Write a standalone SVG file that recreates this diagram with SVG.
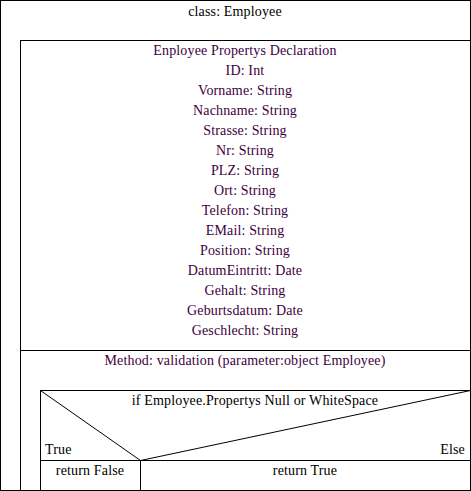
<svg xmlns="http://www.w3.org/2000/svg" width="471" height="491" viewBox="0 0 471 491">
  <style>
    .box { fill: #ffffff; stroke: #000000; stroke-width: 1; }
    .ln { fill: none; stroke: #000000; stroke-width: 1; }
    .blk { fill: #000000; }
    .pur { fill: #400040; }
    .mid { text-anchor: middle; }
  </style>

  <!-- class frame -->
  <g id="class-employee">
    <rect class="box" x="0.5" y="0.5" width="470" height="490"/>
  </g>

  <!-- property declarations -->
  <g id="properties">
    <rect class="box" x="20.5" y="40.5" width="450" height="310"/>
  </g>

  <!-- validation method -->
  <g id="method-validation">
    <rect class="box" x="20.5" y="350.5" width="450" height="140"/>
  </g>

  <!-- decision block -->
  <g id="decision">
    <rect class="box" x="40.5" y="390.5" width="430" height="70"/>
  </g>

  <g id="branch-true">
    <rect class="box" x="40.5" y="460.5" width="100" height="30"/>
  </g>

  <g id="branch-else">
    <rect class="box" x="140.5" y="460.5" width="330" height="30"/>
  </g>

  <!-- condition diagonals -->
  <g id="connectors">
    <line class="ln" x1="40.5" y1="390.5" x2="140.5" y2="460.5"/>
    <line class="ln" x1="470.5" y1="390.5" x2="140.5" y2="460.5"/>
  </g>

  <!-- labels -->
  <g id="labels" font-family="'Liberation Serif', 'Times New Roman', 'DejaVu Serif', serif" font-size="14" letter-spacing="0.15">
    <text class="blk mid" x="235" y="16">class: Employee</text>
    <text class="pur mid" x="245" y="55">Enployee Propertys Declaration</text>
    <text class="pur mid" x="245" y="75">ID: Int</text>
    <text class="pur mid" x="245" y="95">Vorname: String</text>
    <text class="pur mid" x="245" y="115">Nachname: String</text>
    <text class="pur mid" x="245" y="135">Strasse: String</text>
    <text class="pur mid" x="245" y="155">Nr: String</text>
    <text class="pur mid" x="245" y="175">PLZ: String</text>
    <text class="pur mid" x="245" y="195">Ort: String</text>
    <text class="pur mid" x="245" y="215">Telefon: String</text>
    <text class="pur mid" x="245" y="235">EMail: String</text>
    <text class="pur mid" x="245" y="255">Position: String</text>
    <text class="pur mid" x="245" y="275">DatumEintritt: Date</text>
    <text class="pur mid" x="245" y="295">Gehalt: String</text>
    <text class="pur mid" x="245" y="315">Geburtsdatum: Date</text>
    <text class="pur mid" x="245" y="335">Geschlecht: String</text>
    <text class="pur mid" x="245" y="365">Method: validation (parameter:object Employee)</text>
    <text class="blk mid" x="255" y="405">if Employee.Propertys Null or WhiteSpace</text>
    <text class="blk" x="45" y="454">True</text>
    <text class="blk" x="465" y="454" text-anchor="end">Else</text>
    <text class="blk mid" x="90" y="475">return False</text>
    <text class="blk mid" x="305" y="475">return True</text>
  </g>
</svg>
